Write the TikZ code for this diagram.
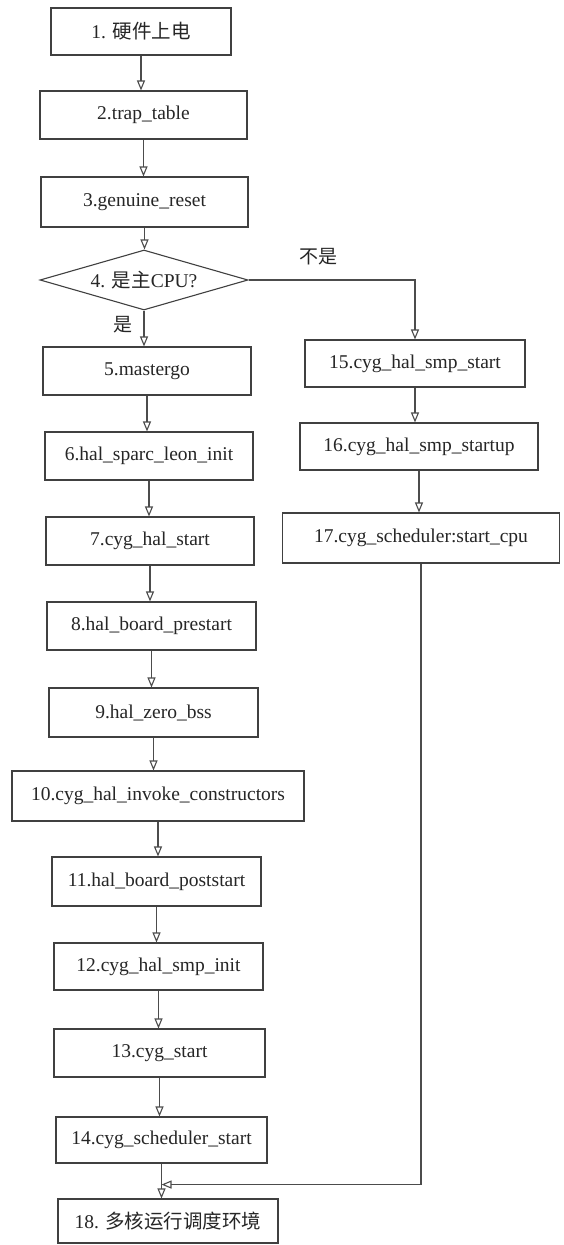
\documentclass[tikz,border=0pt]{standalone}
\usepackage{fontspec}
\setmainfont{Liberation Serif}
\newfontfamily\cjk{Noto Sans CJK SC}
\usetikzlibrary{shapes.geometric,arrows.meta}
\begin{document}
\begin{tikzpicture}[x=1pt,y=-1pt,
  box/.style={draw=black!75, line width=1.1pt, rectangle, inner sep=0pt,
    font=\fontsize{19.5}{22}\selectfont, text=black!85},
  dia/.style={draw=black!75, line width=1.1pt, diamond, inner sep=0pt,
    font=\fontsize{19.5}{22}\selectfont, text=black!85},
  lbl/.style={font=\fontsize{19}{22}\selectfont, text=black!85, inner sep=0pt},
  arr/.style={draw=black!70, line width=1.1pt, -{Triangle[open,length=10pt,width=8pt]}}
]
\useasboundingbox (0,0) rectangle (563,1245);
\fill[white] (0,0) rectangle (563,1245);

% left column
\node[box, minimum width=180pt, minimum height=47pt] (b1) at (141,31.5) {1. {\cjk 硬件上电}};
\node[box, minimum width=207pt, minimum height=48pt] (b2) at (143.5,115) {2.trap\_table};
\node[box, minimum width=207pt, minimum height=50pt] (b3) at (144.5,202) {3.genuine\_reset};
\node[dia, minimum width=208pt, minimum height=60pt, aspect=3.47] (d4) at (144,280) {4. {\cjk 是主}CPU?};
\node[box, minimum width=208pt, minimum height=48pt] (b5) at (147,371) {5.mastergo};
\node[box, minimum width=208pt, minimum height=48pt] (b6) at (149,456) {6.hal\_sparc\_leon\_init};
\node[box, minimum width=208pt, minimum height=48pt] (b7) at (150,541) {7.cyg\_hal\_start};
\node[box, minimum width=209pt, minimum height=48pt] (b8) at (151.5,626) {8.hal\_board\_prestart};
\node[box, minimum width=209pt, minimum height=49pt] (b9) at (153.5,712.5) {9.hal\_zero\_bss};
\node[box, minimum width=292pt, minimum height=50pt] (b10) at (158,796) {10.cyg\_hal\_invoke\_constructors};
\node[box, minimum width=209pt, minimum height=49pt] (b11) at (156.5,881.5) {11.hal\_board\_poststart};
\node[box, minimum width=209pt, minimum height=47pt] (b12) at (158.5,966.5) {12.cyg\_hal\_smp\_init};
\node[box, minimum width=211pt, minimum height=48pt] (b13) at (159.5,1053) {13.cyg\_start};
\node[box, minimum width=211pt, minimum height=46pt] (b14) at (161.5,1140) {14.cyg\_scheduler\_start};
\node[box, minimum width=220pt, minimum height=44pt] (b18) at (168,1221) {18. {\cjk 多核运行调度环境}};

% right column
\node[box, minimum width=220pt, minimum height=47pt] (b15) at (415,363.5) {15.cyg\_hal\_smp\_start};
\node[box, minimum width=238pt, minimum height=47pt] (b16) at (419,446.5) {16.cyg\_hal\_smp\_startup};
\node[box, minimum width=277pt, minimum height=50pt] (b17) at (421,538) {17.cyg\_scheduler:start\_cpu};

% labels
\node[lbl] (yes) at (123,325) {\cjk 是};
\node[lbl] (no) at (318,257) {\cjk 不是};

% connectors left
\draw[arr] (b1.south) -- (b1.south |- b2.north);
\draw[arr] (b2.south) -- (b2.south |- b3.north);
\draw[arr] (b3.south) -- (b3.south |- d4.north);
\draw[arr] (d4.south) -- (d4.south |- b5.north);
\draw[arr] (b5.south) -- (b5.south |- b6.north);
\draw[arr] (b6.south) -- (b6.south |- b7.north);
\draw[arr] (b7.south) -- (b7.south |- b8.north);
\draw[arr] (b8.south) -- (b8.south |- b9.north);
\draw[arr] (b9.south) -- (b9.south |- b10.north);
\draw[arr] (b10.south) -- (b10.south |- b11.north);
\draw[arr] (b11.south) -- (b11.south |- b12.north);
\draw[arr] (b12.south) -- (b12.south |- b13.north);
\draw[arr] (b13.south) -- (b13.south |- b14.north);
\draw[arr] (b14.south) -- (b14.south |- b18.north);

% branch
\draw[arr] (d4.east) -| (b15.north);
\draw[arr] (b15.south) -- (b15.south |- b16.north);
\draw[arr] (b16.south) -- (b16.south |- b17.north);

% merge
\path (b17.south) ++(0,621) coordinate (turn);
\draw[arr] (b17.south) -- (turn) -- (b14.south |- turn);
\end{tikzpicture}
\end{document}
